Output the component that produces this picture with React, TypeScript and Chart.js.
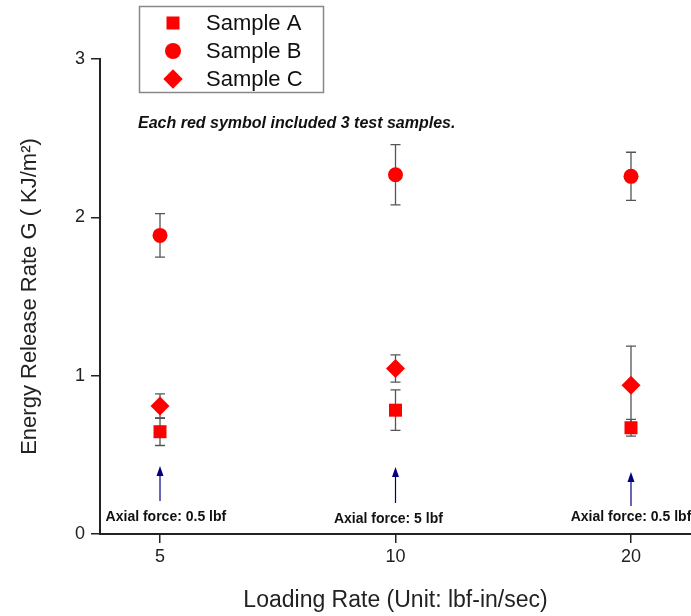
import React, { useEffect, useRef } from 'react';
import { Chart, registerables } from 'chart.js';
Chart.register(...registerables);

const FONT = '"Liberation Sans", Arial, Helvetica, sans-serif';

const categories = ['5', '10', '20'];
const seriesNames = ['Sample A', 'Sample B', 'Sample C'];
const sampleA = [0.646, 0.782, 0.671];
const errA = [0.087, 0.128, 0.053];
const sampleB = [1.886, 2.269, 2.259];
const errB = [0.137, 0.19, 0.152];
const sampleC = [0.808, 1.045, 0.94];
const errC = [0.077, 0.086, 0.247];
const yTicks = [0, 1, 2, 3];

const axialLabels = ['Axial force: 0.5 lbf', 'Axial force: 5 lbf', 'Axial force: 0.5 lbf'];
const axialLabelX = [0.025, -0.03, 0];
const axialLabelY = [0.107, 0.095, 0.107];
const arrowTail = [0.208, 0.196, 0.177];
const arrowTip = [0.429, 0.423, 0.392];
const noteText = 'Each red symbol included 3 test samples.';

const RED = '#ff0000';

const errorBarPlugin = {
  id: 'errorBars',
  beforeDatasetsDraw(chart: any) {
    const ctx = chart.ctx;
    const xs = chart.scales.x;
    const ys = chart.scales.y;
    ctx.save();
    ctx.strokeStyle = '#555555';
    ctx.lineWidth = 1.3;
    chart.data.datasets.forEach((ds: any) => {
      const errs = ds.errors as number[];
      ds.data.forEach((p: any, i: number) => {
        const px = xs.getPixelForValue(p.x);
        const top = ys.getPixelForValue(p.y + errs[i]);
        const bot = ys.getPixelForValue(p.y - errs[i]);
        ctx.beginPath();
        ctx.moveTo(px, top);
        ctx.lineTo(px, bot);
        ctx.moveTo(px - 5, top);
        ctx.lineTo(px + 5, top);
        ctx.moveTo(px - 5, bot);
        ctx.lineTo(px + 5, bot);
        ctx.stroke();
      });
    });
    ctx.restore();
  },
};

function drawMarker(ctx: CanvasRenderingContext2D, style: string, x: number, y: number, r: number) {
  ctx.beginPath();
  if (style === 'rect') {
    const s = r * Math.SQRT1_2;
    ctx.rect(x - s, y - s, 2 * s, 2 * s);
  } else if (style === 'circle') {
    ctx.arc(x, y, r, 0, Math.PI * 2);
  } else {
    ctx.moveTo(x - r, y);
    ctx.lineTo(x, y - r);
    ctx.lineTo(x + r, y);
    ctx.lineTo(x, y + r);
    ctx.closePath();
  }
  ctx.fill();
}

const annotationPlugin = {
  id: 'annotations',
  afterDraw(chart: any) {
    const ctx: CanvasRenderingContext2D = chart.ctx;
    const xs = chart.scales.x;
    const ys = chart.scales.y;
    ctx.save();
    // arrows
    ctx.strokeStyle = '#000080';
    ctx.fillStyle = '#000080';
    ctx.lineWidth = 1.2;
    categories.forEach((_, i) => {
      const px = xs.getPixelForValue(i);
      const tail = ys.getPixelForValue(arrowTail[i]);
      const tip = ys.getPixelForValue(arrowTip[i]);
      ctx.beginPath();
      ctx.moveTo(px, tail);
      ctx.lineTo(px, tip + 8);
      ctx.stroke();
      ctx.beginPath();
      ctx.moveTo(px, tip);
      ctx.lineTo(px - 3.5, tip + 10);
      ctx.lineTo(px + 3.5, tip + 10);
      ctx.closePath();
      ctx.fill();
    });
    // axial labels
    ctx.fillStyle = '#111111';
    ctx.font = `bold 14px ${FONT}`;
    ctx.textAlign = 'center';
    ctx.textBaseline = 'middle';
    axialLabels.forEach((t, i) => {
      ctx.fillText(t, xs.getPixelForValue(i + axialLabelX[i]), ys.getPixelForValue(axialLabelY[i]));
    });
    // note
    ctx.font = `italic bold 16px ${FONT}`;
    ctx.textAlign = 'left';
    ctx.fillText(noteText, 138, 124);
    // legend
    ctx.strokeStyle = '#888888';
    ctx.lineWidth = 1.5;
    ctx.strokeRect(139.5, 6.5, 184, 86);
    const styles = ['rect', 'circle', 'rectRot'];
    const radii = [9.2, 8, 9.7];
    ctx.font = `22px ${FONT}`;
    chart.data.datasets.forEach((ds: any, i: number) => {
      const ly = 23 + i * 28;
      ctx.fillStyle = RED;
      drawMarker(ctx, styles[i], 173, ly, radii[i]);
      ctx.fillStyle = '#111111';
      ctx.fillText(ds.label, 206, ly + 1);
    });
    ctx.restore();
  },
};

export default function App() {
  const ref = useRef<HTMLCanvasElement | null>(null);
  useEffect(() => {
    if (!ref.current) return;
    Chart.defaults.font.family = FONT;
    const toPts = (arr: number[]) => arr.map((v, i) => ({ x: i, y: v }));
    const chart = new Chart(ref.current, {
      type: 'scatter',
      data: {
        datasets: [
          { label: seriesNames[0], data: toPts(sampleA), errors: errA, pointStyle: 'rect', pointRadius: 9.2, backgroundColor: RED, borderColor: RED, borderWidth: 0 } as any,
          { label: seriesNames[1], data: toPts(sampleB), errors: errB, pointStyle: 'circle', pointRadius: 7.5, backgroundColor: RED, borderColor: RED, borderWidth: 0 } as any,
          { label: seriesNames[2], data: toPts(sampleC), errors: errC, pointStyle: 'rectRot', pointRadius: 9.5, backgroundColor: RED, borderColor: RED, borderWidth: 0 } as any,
        ],
      },
      options: {
        responsive: false,
        animation: false,
        layout: { autoPadding: false, padding: { top: 59, right: 0, left: 0, bottom: 0 } },
        plugins: { legend: { display: false }, tooltip: { enabled: false } },
        scales: {
          x: {
            type: 'linear',
            min: -0.2548,
            max: 2.2548,
            afterBuildTicks: (s: any) => { s.ticks = categories.map((_, i) => ({ value: i })); },
            afterFit: (s: any) => { s.height = 82; s.paddingLeft = 0; s.paddingRight = 0; },
            ticks: {
              callback: (v: any) => categories[v as number] ?? '',
              font: { size: 18 },
              color: '#222222',
              padding: 3,
              maxRotation: 0,
              autoSkip: false,
            },
            grid: { drawOnChartArea: false, tickLength: 9, color: '#222222', lineWidth: 1.5 },
            border: { display: true, color: '#222222', width: 2 },
            title: { display: true, text: 'Loading Rate (Unit: lbf-in/sec)', font: { size: 23 }, color: '#222222', padding: { top: 0, bottom: 2 } },
          },
          y: {
            type: 'linear',
            min: 0,
            max: 3,
            afterBuildTicks: (s: any) => { s.ticks = yTicks.map((v) => ({ value: v })); },
            afterFit: (s: any) => { s.width = 100; },
            ticks: { font: { size: 18 }, color: '#222222', padding: 6 },
            grid: { drawOnChartArea: false, tickLength: 9, color: '#222222', lineWidth: 1.5 },
            border: { display: true, color: '#222222', width: 2 },
            title: { display: true, text: 'Energy Release Rate G ( KJ/m²)', font: { size: 22 }, color: '#222222', padding: { top: 17, bottom: 0 } },
          },
        },
      } as any,
      plugins: [errorBarPlugin, annotationPlugin],
    });
    return () => chart.destroy();
  }, []);
  return (
    <div style={{ position: 'absolute', left: 0, top: 0, width: 691, height: 616, background: '#ffffff' }}>
      <canvas ref={ref} width={691} height={616} style={{ display: 'block' }} />
    </div>
  );
}
